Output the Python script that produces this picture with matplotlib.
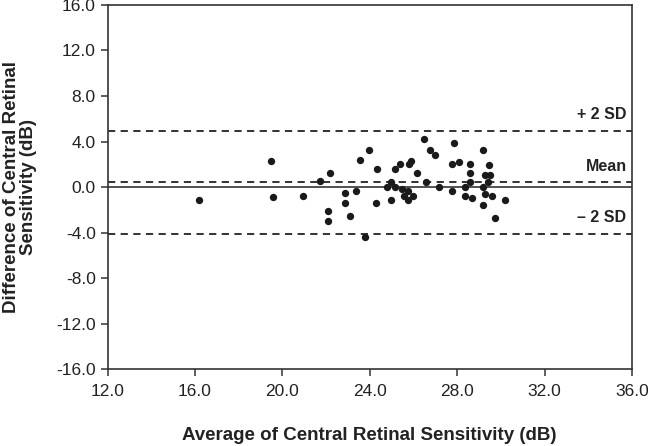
import numpy as np
import matplotlib
matplotlib.use("Agg")
import matplotlib.pyplot as plt

# Bland-Altman data
avg_sens = [16.20, 19.47, 19.59, 20.95, 21.74, 22.18, 22.09, 22.09, 22.87, 22.87,
            23.37, 23.08, 23.57, 23.98, 24.35, 24.27, 23.78, 24.78, 24.97, 25.17,
            24.97, 25.17, 25.39, 25.48, 25.56, 25.77, 25.77, 25.97, 25.80, 25.89,
            26.16, 26.50, 26.76, 26.99, 26.58, 27.19, 27.87, 27.78, 28.07, 27.78,
            28.38, 28.38, 28.68, 28.58, 28.58, 28.58, 29.19, 29.45, 29.26, 29.51,
            29.40, 29.19, 29.26, 29.60, 29.19, 29.75, 30.18]
diff_sens = [-1.17, 2.26, -0.85, -0.76, 0.50, 1.21, -2.14, -2.96, -0.56, -1.38,
             -0.38, -2.58, 2.41, 3.21, 1.62, -1.38, -4.40, 0.00, 0.44, 0.00,
             -1.17, 1.59, 2.06, -0.18, -0.76, -0.38, -1.17, -0.76, 2.06, 2.26,
             1.27, 4.23, 3.23, 2.82, 0.41, 0.00, 3.85, 2.03, 2.24, -0.38,
             0.00, -0.79, -0.97, 2.06, 1.21, 0.44, 3.23, 1.94, 1.03, 1.03,
             0.44, 0.00, -0.59, -0.79, -1.58, -2.76, -1.17]

mean_diff = 0.42
upper_loa = 4.94
lower_loa = -4.10
ref_lines = [upper_loa, mean_diff, lower_loa]
ref_labels = ["+ 2 SD", "Mean", "\u2013 2 SD"]

x_ticks = np.arange(12, 37, 4)
y_ticks = np.arange(-16, 17, 4)

plt.rcParams['font.family'] = ['Liberation Sans', 'DejaVu Sans']

fig = plt.figure(figsize=(6.48, 4.46), dpi=100)
ax = fig.add_axes([0.1659, 0.1726, 0.8094, 0.8162])

ax.axhline(0, color='#222222', lw=1.1, zorder=1)
for val, lab in zip(ref_lines, ref_labels):
    ax.axhline(val, color='#222222', lw=1.3, ls=(0, (4, 3)), zorder=1)
    ax.text(35.75, val + 0.75, lab, ha='right', va='bottom',
            fontsize=11.5, fontweight='bold', color='#222222')

ax.scatter(avg_sens, diff_sens, s=28, color='#1a1a1a', zorder=3, linewidths=0)

ax.set_xlim(12, 36)
ax.set_ylim(-16, 16)
ax.set_xticks(x_ticks)
ax.set_xticklabels([f"{v:.1f}" for v in x_ticks])
ax.set_yticks(y_ticks)
ax.set_yticklabels([f"{v:.1f}" for v in y_ticks])
ax.tick_params(axis='both', direction='out', length=5, width=1.1,
               colors='#333333', labelsize=12.5, labelcolor='#222222')
ax.tick_params(axis='x', pad=6)
for sp in ax.spines.values():
    sp.set_linewidth(1.2)
    sp.set_color('#333333')

ax.set_xlabel("Average of Central Retinal Sensitivity (dB)", fontsize=13.5,
              fontweight='bold', color='#222222', labelpad=20)
ax.set_ylabel("Difference of Central Retinal\nSensitivity (dB)", fontsize=13.5,
              fontweight='bold', color='#222222', labelpad=14, linespacing=1.0)

fig.savefig("out.png", dpi=100)
